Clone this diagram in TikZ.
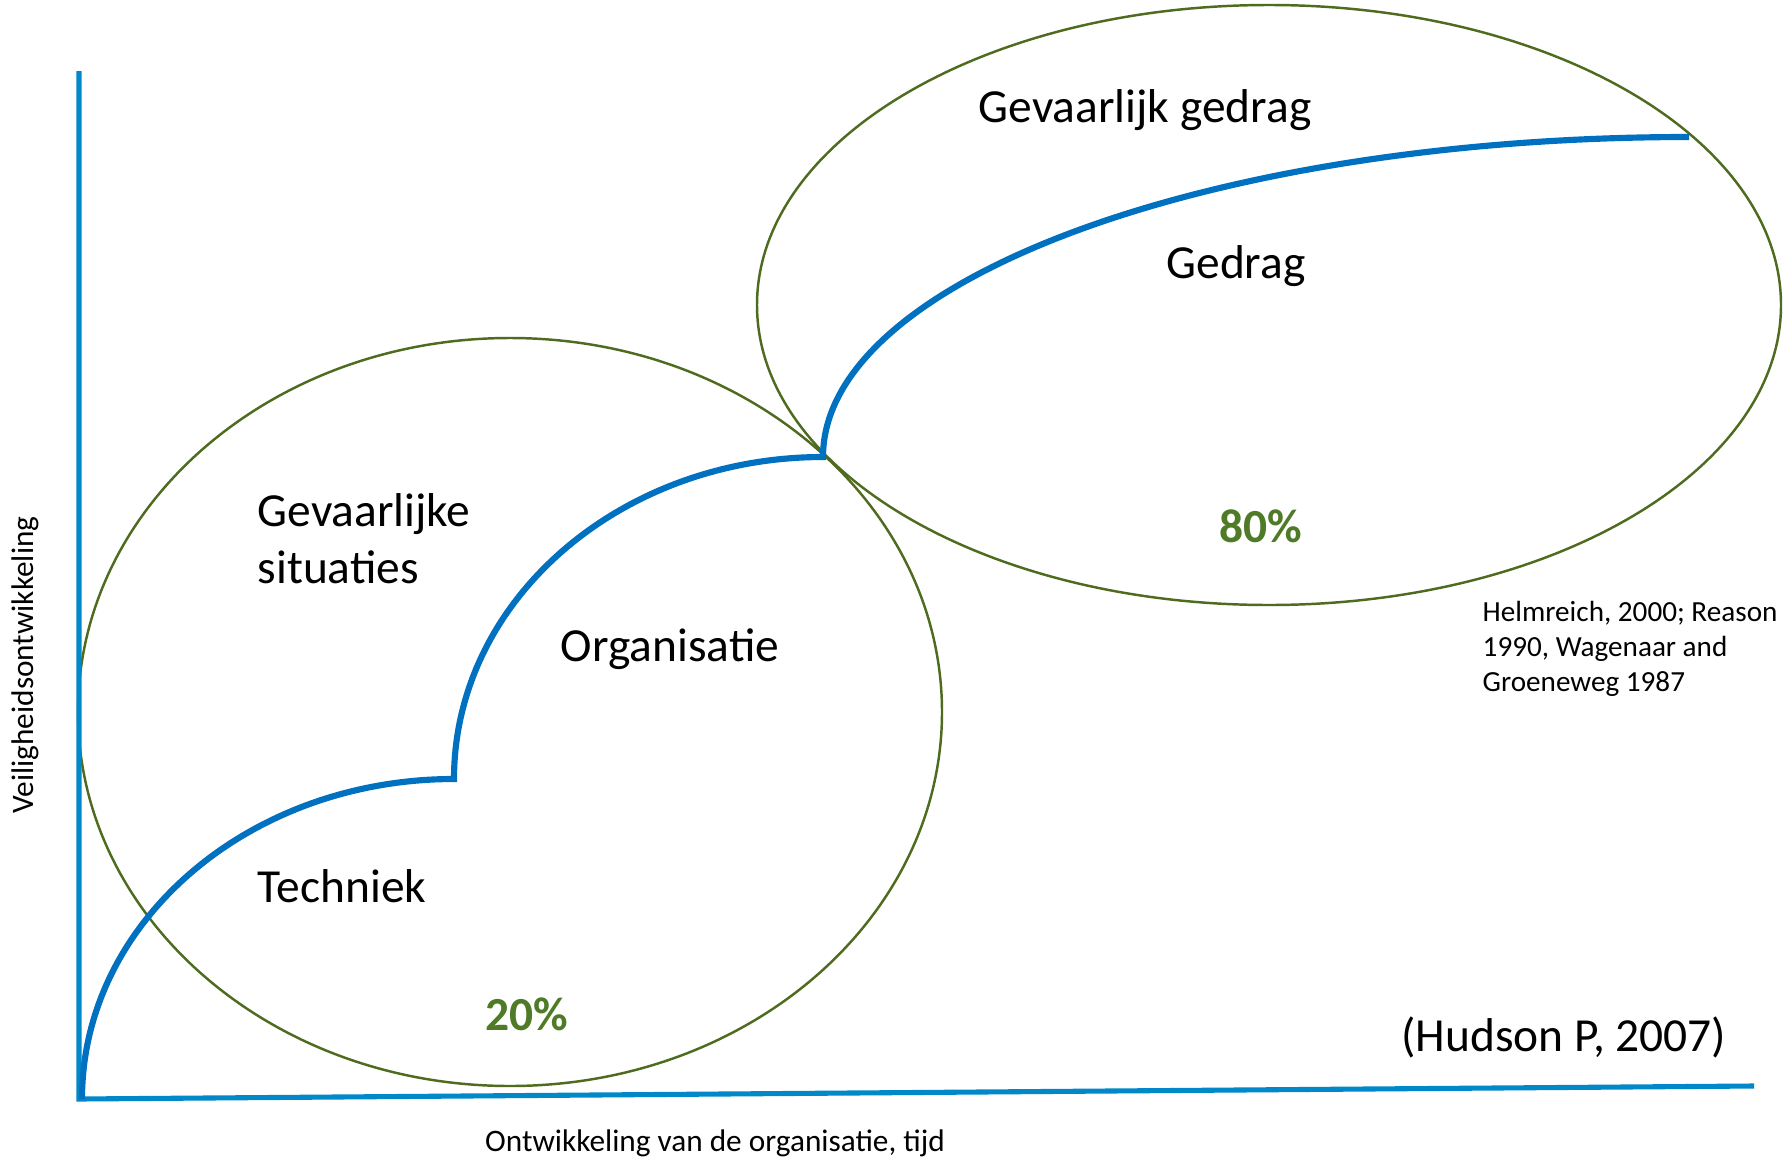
\documentclass[tikz,border=0pt]{standalone}
\usepackage{fontspec}
\setmainfont{Carlito}
\usepackage{tikz}
\definecolor{axisblue}{HTML}{0088C8}
\definecolor{curveblue}{HTML}{0070C0}
\definecolor{zonegreen}{HTML}{4F6B1F}
\definecolor{pctgreen}{HTML}{4F7A28}
\tikzstyle{axis} = [line width=1.45pt, axisblue]
\tikzstyle{curve} = [line width=1.75pt, curveblue]
\tikzstyle{zone} = [line width=0.7pt, zonegreen]
\tikzstyle{big} = [inner sep=0pt, font=\fontsize{13.5}{16.2}\selectfont, align=left]
\tikzstyle{pct} = [inner sep=0pt, font=\fontsize{13.5}{16.2}\selectfont\bfseries, text=pctgreen]
\tikzstyle{small} = [inner sep=0pt, font=\fontsize{8.9}{10.7}\selectfont, align=left]

\begin{document}
\begin{tikzpicture}
			\useasboundingbox (0,0) rectangle (17.92,11.59);
			\draw[zone] (5.10,4.47) ellipse [x radius=4.32, y radius=3.74];
			\draw[zone] (12.69,8.54) ellipse [x radius=5.12, y radius=3.00];
			\draw[axis] (0.79,10.88) -- (0.79,0.60) -- (17.54,0.73);
			\draw[curve] (0.82,0.60) arc[start angle=180, end angle=90, x radius=3.72, y radius=3.20]
				arc[start angle=180, end angle=90, x radius=3.69, y radius=3.22]
				arc[start angle=180, end angle=90, x radius=8.66, y radius=3.20];
			\node[big, anchor=west] (gedraggev) at (9.78,10.49) {Gevaarlijk gedrag};
			\node[big] (gedrag) at (12.36,8.93) {Gedrag};
			\node[pct] (pcthoog) at (12.61,6.33) {80\%};
			\node[big, anchor=west] (situaties) at (2.57,6.20) {Gevaarlijke\\situaties};
			\node[big] (organisatie) at (6.70,5.10) {Organisatie};
			\node[big, anchor=west] (techniek) at (2.57,2.73) {Techniek};
			\node[pct] (pctlaag) at (5.27,1.45) {20\%};
			\node[big, anchor=east] (hudson) at (17.27,1.22) {(Hudson P, 2007)};
			\node[small, anchor=west, font=\fontsize{8.3}{10}\selectfont] (bronnen) at (14.82,5.10) {Helmreich, 2000; Reason\\1990, Wagenaar and\\Groeneweg 1987};
			\node[small] (xlabel) at (7.15,0.16) {Ontwikkeling van de organisatie, tijd};
			\node[small, rotate=90] (ylabel) at (0.25,4.94) {Veiligheidsontwikkeling};
		\end{tikzpicture}
\end{document}
